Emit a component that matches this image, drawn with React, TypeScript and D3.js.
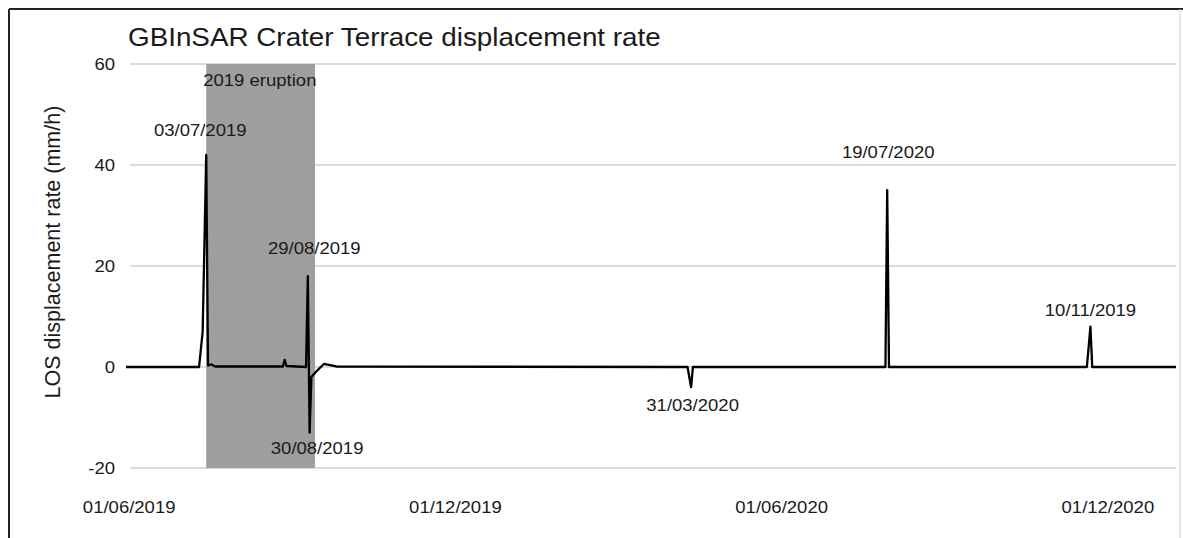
import React from "react";
import * as d3 from "d3";

// ---------- data ----------
const seriesDates = [
  "2019-05-19", "2019-06-29", "2019-07-01", "2019-07-03", "2019-07-04", "2019-07-06", "2019-07-08",
  "2019-08-15", "2019-08-16", "2019-08-17", "2019-08-28", "2019-08-29", "2019-08-30", "2019-08-31",
  "2019-09-03", "2019-09-07", "2019-09-14", "2020-03-29", "2020-03-31", "2020-04-01",
  "2020-07-18", "2020-07-19", "2020-07-20", "2020-11-08", "2020-11-10", "2020-11-11", "2020-12-28",
];
const seriesValues = [
  0, 0, 7, 42, 0.3, 0.5, 0.1,
  0.1, 1.4, 0.2, 0, 18, -13, -2,
  -0.8, 0.6, 0.1, 0, -4, 0,
  0, 35, 0, 0, 8, 0, 0,
];

const eruptionStart = "2019-07-03";
const eruptionEnd = "2019-09-02";
const eruptionLabel = "2019 eruption";

const annotationDates = ["2019-07-03", "2019-08-29", "2019-08-30", "2020-03-31", "2020-07-19", "2020-11-10"];
const annotationValues = [42, 18, -13, -4, 35, 8];
const annotationLabels = ["03/07/2019", "29/08/2019", "30/08/2019", "31/03/2020", "19/07/2020", "10/11/2019"];

const yTicks = [-20, 0, 20, 40, 60];
const xTickDates = ["2019-06-01", "2019-12-01", "2020-06-01", "2020-12-01"];
const xDomain = ["2019-05-19", "2020-12-28"];
const yDomain = [-20, 60];

const title = "GBInSAR Crater Terrace displacement rate";
const yTitle = "LOS displacement rate (mm/h)";

// ---------- layout ----------
const W = 1183;
const H = 538;
const FONT = "'Liberation Sans', Arial, Helvetica, sans-serif";
const TXT = "#1a1a1a";
// label offsets (dx, dy) relative to the annotated extremum
const annotationOffsets = [
  [-6, -19], [6.5, -22], [7.5, 21], [1.5, 24], [1, -32], [0, -11],
];

const parse = d3.utcParse("%Y-%m-%d");
const fmt = d3.utcFormat("%d/%m/%Y");

function T({ x, y, size = 17, sx = 1.09, anchor = "start", children, weight = "normal" }: any) {
  return (
    <text
      transform={`translate(${x},${y}) scale(${sx},1)`}
      textAnchor={anchor}
      fontSize={size}
      fontFamily={FONT}
      fill={TXT}
      fontWeight={weight}
    >
      {children}
    </text>
  );
}

export default function App() {
  const x = d3.scaleUtc().domain(xDomain.map((d) => parse(d) as Date)).range([126, 1176]);
  const y = d3.scaleLinear().domain(yDomain).range([468, 64]);

  const data = seriesDates.map((d, i) => ({ date: parse(d) as Date, value: seriesValues[i] }));
  const line = d3
    .line<{ date: Date; value: number }>()
    .x((d) => x(d.date))
    .y((d) => y(d.value));

  const bx0 = x(parse(eruptionStart) as Date);
  const bx1 = x(parse(eruptionEnd) as Date);
  const [gx0, gx1] = [x.range()[0] + 4, x.range()[1]];

  return (
    <svg
      width={W}
      height={H}
      style={{ position: "absolute", left: 0, top: 0, background: "#fff" }}
    >
      <rect x={0} y={0} width={W} height={H} fill="#fff" />
      {/* frame */}
      <line x1={9} y1={9} x2={W} y2={9} stroke="#222" strokeWidth={2} />
      <line x1={9} y1={9} x2={9} y2={H} stroke="#222" strokeWidth={2} />
      <line x1={1180} y1={9} x2={1180} y2={H} stroke="#d0d0d0" strokeWidth={1} />

      {/* title */}
      <T x={128} y={46} size={26.5} sx={1.05}>{title}</T>

      {/* gridlines */}
      {yTicks.map((v) => (
        <line key={v} x1={gx0} x2={gx1} y1={y(v)} y2={y(v)} stroke="#dcdcdc" strokeWidth={2} />
      ))}

      {/* eruption band */}
      <rect x={bx0} y={y(yDomain[1])} width={bx1 - bx0} height={y(yDomain[0]) - y(yDomain[1])} fill="#9e9e9e" />
      <T x={bx0 - 3} y={86}>{eruptionLabel}</T>

      {/* y tick labels */}
      {yTicks.map((v) => (
        <T key={v} x={115} y={y(v) + 6} anchor="end">{String(v)}</T>
      ))}

      {/* y title */}
      <text
        transform={`translate(60,252) rotate(-90)`}
        textAnchor="middle"
        fontSize={21.5}
        fontFamily={FONT}
        fill={TXT}
      >
        {yTitle}
      </text>

      {/* x tick labels */}
      {xTickDates.map((d) => (
        <T key={d} x={x(parse(d) as Date) - 20} y={513} anchor="middle">{fmt(parse(d) as Date)}</T>
      ))}

      {/* series */}
      <path d={line(data) || ""} fill="none" stroke="#000" strokeWidth={2.3} strokeLinejoin="round" />

      {/* annotations */}
      {annotationDates.map((d, i) => (
        <T
          key={d + i}
          x={x(parse(d) as Date) + annotationOffsets[i][0]}
          y={y(annotationValues[i]) + annotationOffsets[i][1]}
          anchor="middle"
        >
          {annotationLabels[i]}
        </T>
      ))}
    </svg>
  );
}
